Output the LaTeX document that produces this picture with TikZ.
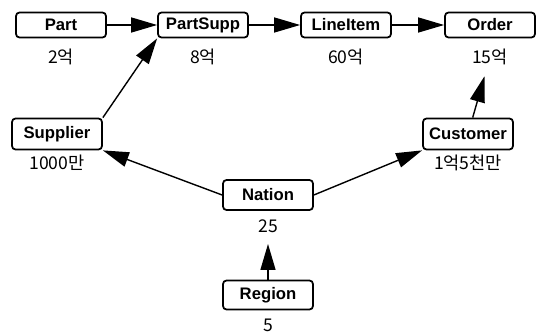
\documentclass[tikz,border=0pt]{standalone}
\usepackage{fontspec}
\setmainfont{Liberation Sans}
\newfontfamily\krfont{Noto Sans CJK KR}
\usetikzlibrary{arrows.meta}

\begin{document}
\begin{tikzpicture}[x=0.02cm, y=-0.02cm,
        tablebox/.style={draw, rounded corners=2pt, line width=1pt, fill=white,
            minimum width=1.8cm, inner sep=1pt, font=\bfseries\fontsize{9.5}{11}\selectfont},
        rowcount/.style={font=\krfont\fontsize{10}{12}\selectfont},
        link/.style={line width=0.8pt, -{Triangle[length=0.52cm, width=0.3cm]}}]
        % Fix the size of the picture (in pixels of the reference)
        \useasboundingbox (0,0) rectangle (545,334);

        % Draw the tables and the number of rows under each one
        \foreach \name/\txt/\x/\y/\h/\cnt/\ly in {
            part/Part/61/25/25/2억/57,
            partsupp/PartSupp/203/25/25/8억/57,
            lineitem/LineItem/346/25/25/60억/57,
            order/Order/490/25/25/15억/57,
            supplier/Supplier/57/134/31/1000만/163,
            customer/Customer/468/134/31/1억5천만/163,
            nation/Nation/268/195/30/25/226,
            region/Region/268/295/29/5/325} {
            \node[tablebox, minimum height=\h*0.02cm] (\name) at (\x,\y) {\txt};
            \node[rowcount] (\name-n) at (\x,\ly) {\cnt};
        }

        % Add the links
        \draw[link] (part) -- (partsupp);
        \draw[link] (partsupp) -- (lineitem);
        \draw[link] (lineitem) -- (order);
        \draw[link] (supplier.north east) -- (partsupp.south west);
        \draw[link] (nation.west) -- (supplier.south east);
        \draw[link] (nation.east) -- (customer.south west);
        \draw[link, shorten >=3pt] (customer) -- (order-n);
        \draw[link, shorten >=3pt] (region) -- (nation-n);
    \end{tikzpicture}
\end{document}
